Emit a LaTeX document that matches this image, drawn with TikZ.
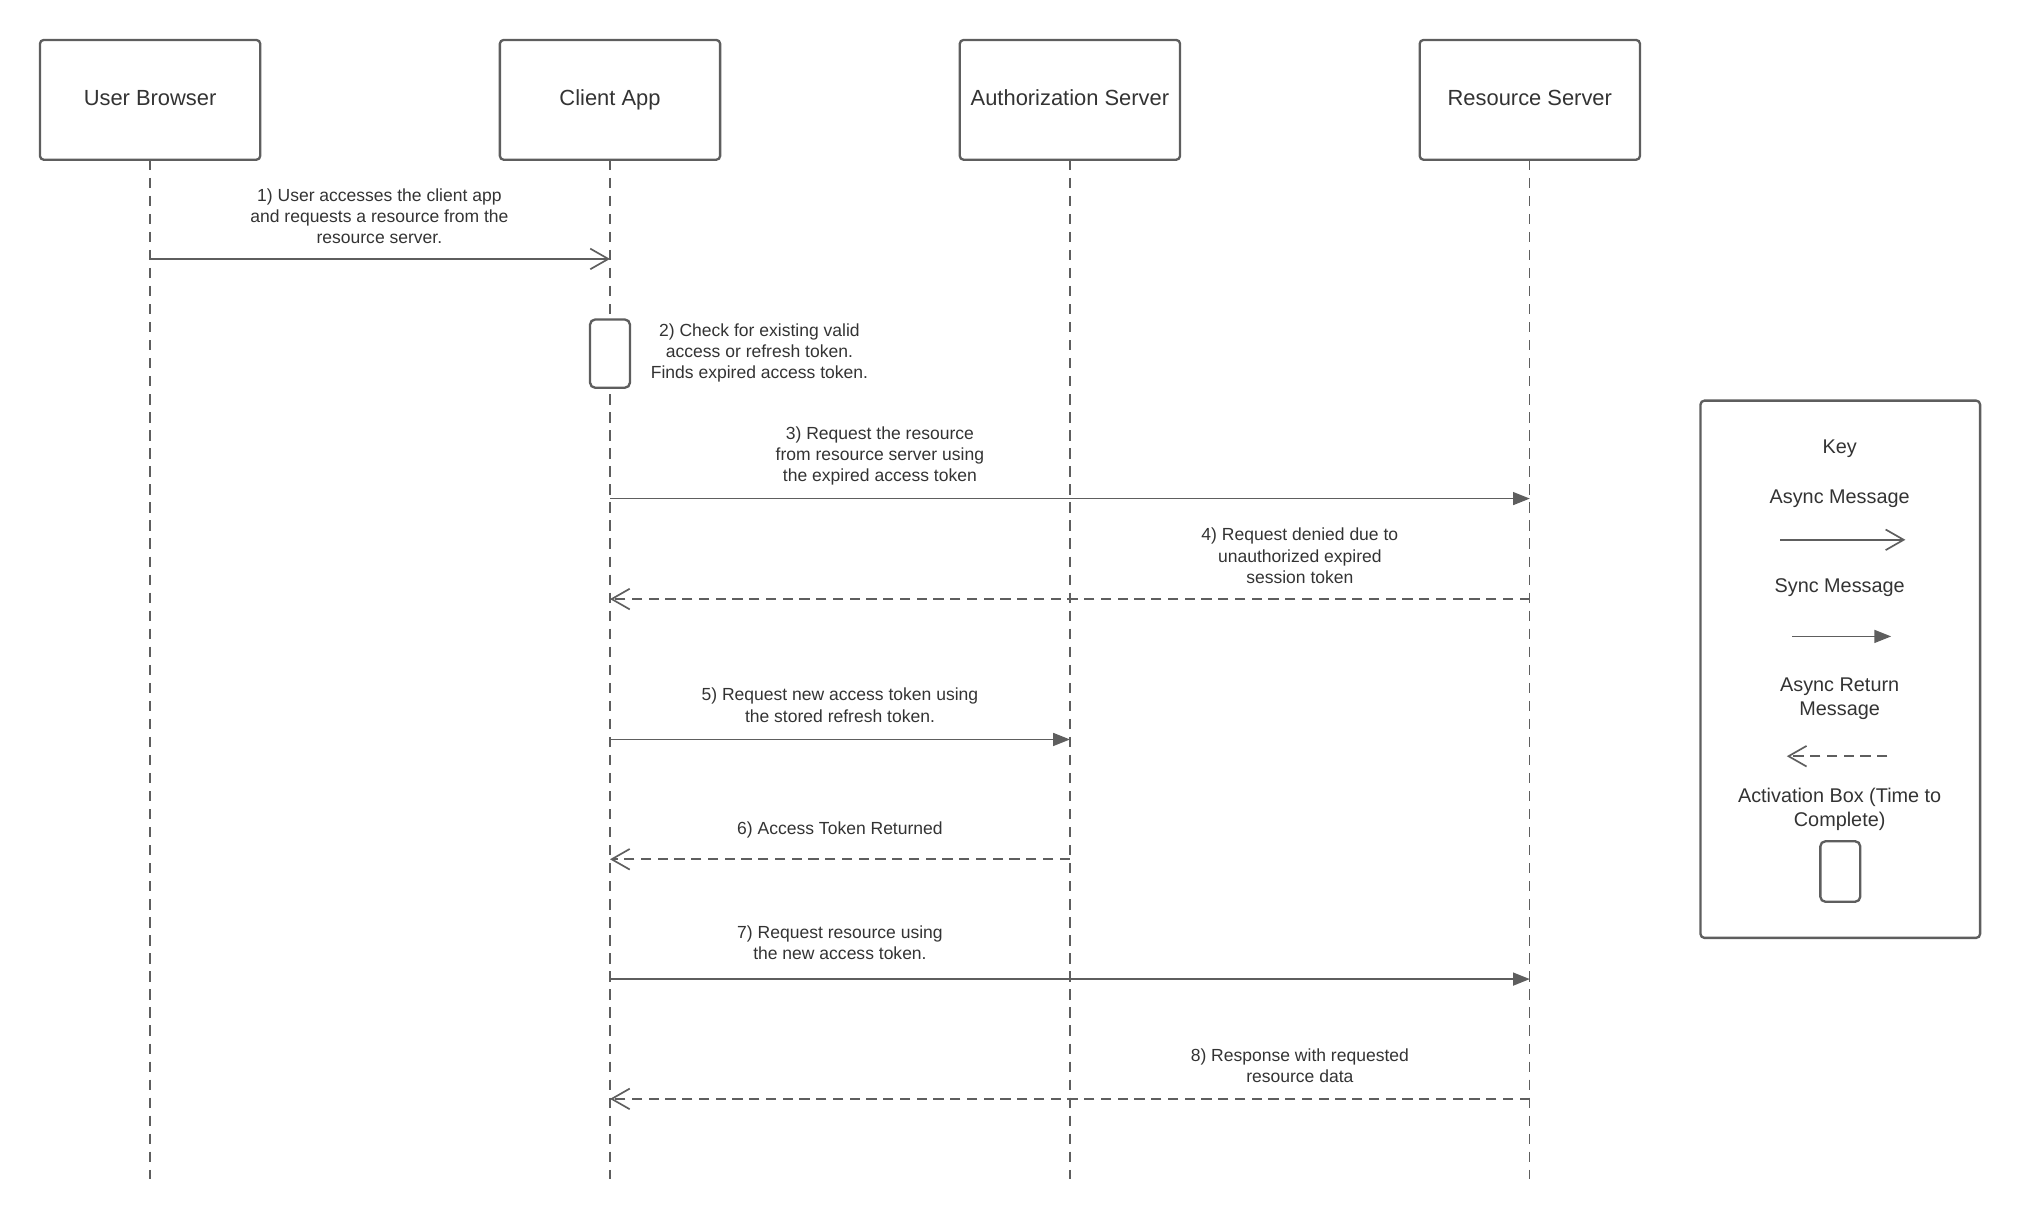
\documentclass[tikz,border=0pt]{standalone}
\usepackage{fontspec}
\setmainfont{Liberation Sans}
\usetikzlibrary{arrows.meta, positioning}
\definecolor{linegray}{HTML}{5E5E5E}
\definecolor{textgray}{HTML}{333333}
\tikzstyle{actor} = [rectangle, rounded corners=3pt, minimum width=171pt, minimum height=93pt, outer sep=0pt, draw=linegray, line width=1.8pt, text=textgray, text height=12.5pt, text depth=3.5pt, font=\fontsize{17}{20}\selectfont]
\tikzstyle{lifeline} = [draw=linegray, line width=1pt, dash pattern=on 8pt off 6pt]
\tikzstyle{activation} = [rectangle, rounded corners=4pt, minimum width=31pt, minimum height=53pt, draw=linegray, fill=white, line width=1.8pt]
\tikzstyle{msg} = [text=textgray, align=center, yshift=-1.5pt, font=\fontsize{13.6}{16.5}\selectfont]
\tikzstyle{keytext} = [text=textgray, align=center, yshift=-1.5pt, font=\fontsize{15.4}{18.5}\selectfont]
\tikzstyle{async} = [draw=linegray, line width=1.3pt, -{Straight Barb[length=14pt,width=16pt]}]
\tikzstyle{sync} = [draw=linegray, line width=1.3pt, -{Triangle[length=13pt,width=10pt]}]
\tikzstyle{reply} = [async, dash pattern=on 8pt off 5pt]

\begin{document}
\begin{tikzpicture}[x=1pt, y=-1pt, node distance=186pt]
\useasboundingbox (0,0) rectangle (1568,947);
% participants
\node (ub) [actor] at (116.5,77.5) {User Browser};
\node (ca) [actor, right=of ub] {Client App};
\node (as) [actor, right=of ca] {Authorization Server};
\node (rs) [actor, right=of as] {Resource Server};
\coordinate (bottom) at (0,915);
\draw [lifeline] (ub) -- (ub |- bottom);
\draw [lifeline] (ca) -- (ca |- bottom);
\draw [lifeline] (as) -- (as |- bottom);
\draw [lifeline] (rs) -- (rs |- bottom);
% message rows
\coordinate (m1) at (0,201);
\coordinate (m3) at (0,387);
\coordinate (m4) at (0,465);
\coordinate (m5) at (0,574);
\coordinate (m6) at (0,667);
\coordinate (m7) at (0,760);
\coordinate (m8) at (0,853);
\draw [async] (ub |- m1) -- (ca |- m1);
\node (t1) [msg] at (294.5,166.5) {1) User accesses the client app\\and requests a resource from the\\resource server.};
\node (act) [activation] at (473.5,274.5) {};
\node (t2) [msg] at (589.5,272.5) {2) Check for existing valid\\access or refresh token.\\Finds expired access token.};
\draw [sync] (ca |- m3) -- (rs |- m3);
\node (t3) [msg] at (683,352.5) {3) Request the resource\\from resource server using\\the expired access token};
\draw [reply] (rs |- m4) -- (ca |- m4);
\node (t4) [msg] at (1009,430) {4) Request denied due to\\unauthorized expired\\session token};
\draw [sync] (ca |- m5) -- (as |- m5);
\node (t5) [msg] at (652,546) {5) Request new access token using\\the stored refresh token.};
\draw [reply] (as |- m6) -- (ca |- m6);
\node (t6) [msg] at (652,643) {6) Access Token Returned};
\draw [sync] (ca |- m7) -- (rs |- m7);
\node (t7) [msg] at (652,730) {7) Request resource using\\the new access token.};
\draw [reply] (rs |- m8) -- (ca |- m8);
\node (t8) [msg] at (1009,825.5) {8) Response with requested\\resource data};
% key
\node (key) [rectangle, rounded corners=3pt, draw=linegray, line width=1.8pt, minimum width=217pt, minimum height=417pt] at (1428.5,519.5) {};
\node (k0) [keytext] at (1428,347) {Key};
\node (k1) [keytext] at (1428,386) {Async Message};
\coordinate (ka1) at (1382,419);
\coordinate (ka2) at (1479,419);
\draw [async] (ka1) -- (ka2);
\node (k2) [keytext] at (1428,455) {Sync Message};
\coordinate (ks1) at (1391,494);
\coordinate (ks2) at (1468,494);
\draw [sync] (ks1) -- (ks2);
\node (k3) [keytext] at (1428,541) {Async Return\\Message};
\coordinate (kr1) at (1465,587);
\coordinate (kr2) at (1387,587);
\draw [reply] (kr1) -- (kr2);
\node (k4) [keytext] at (1428,627) {Activation Box (Time to\\Complete)};
\node (kact) [activation, minimum height=47pt] at (1428.5,676.5) {};
\end{tikzpicture}
\end{document}
